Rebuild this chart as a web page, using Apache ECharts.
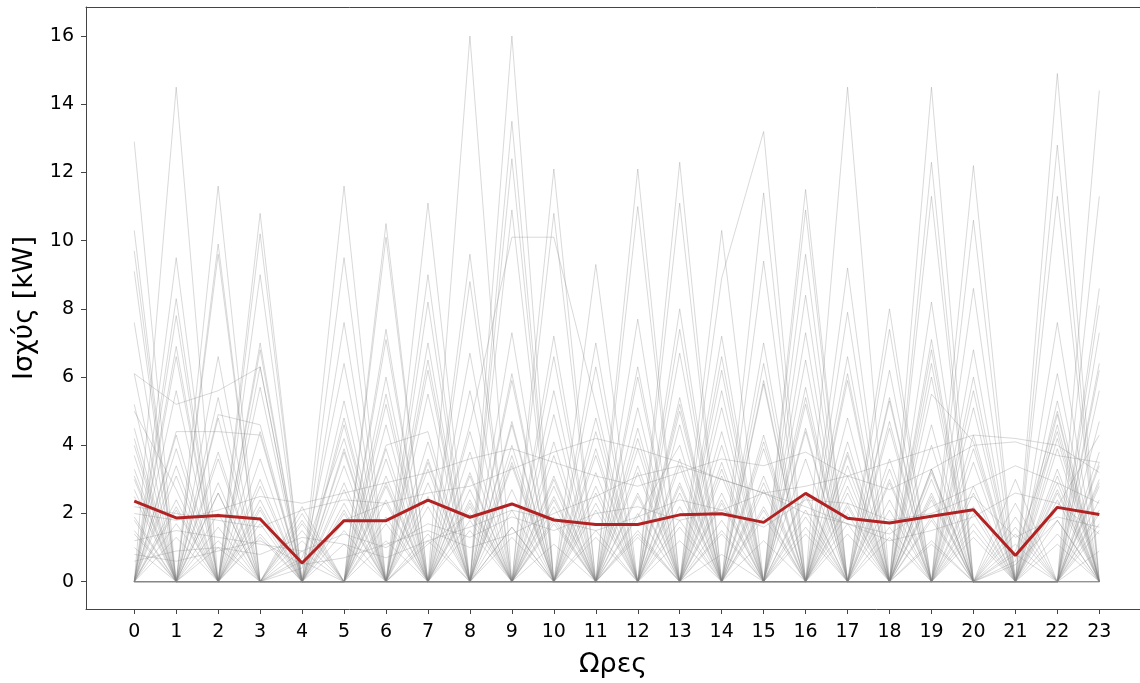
<!DOCTYPE html>
<html>
<head>
<meta charset="utf-8">
<script src="https://cdn.jsdelivr.net/npm/echarts@6/dist/echarts.min.js"></script>
<style>
  html, body { margin: 0; padding: 0; background: #fff; }
  #chart { width: 1140px; height: 683px; }
</style>
</head>
<body>
<div id="chart"></div>
<script>
// hours on the x axis
var hours = [0,1,2,3,4,5,6,7,8,9,10,11,12,13,14,15,16,17,18,19,20,21,22,23];
var yTicks = [0,2,4,6,8,10,12,14,16];

// mean daily profile (red)
var meanProfile = [2.36,1.87,1.94,1.84,0.55,1.79,1.79,2.39,1.89,2.28,1.81,1.68,
                   1.68,1.96,1.99,1.74,2.59,1.86,1.72,1.92,2.11,0.77,2.18,1.97];

// individual daily profiles (grey)
var day01 = [5.2,0,0,2.1,0,1.1,0,0,16.0,0,0,0,3.4,0,0.8,0,0,4.8,0,0,0,0,6.1,0];
var day02 = [0,4.3,0,0,0,3.9,0,1.2,0,16.0,0,0,0,0,6.2,0,0,0,0,2.4,0,0,0,5.6];
var day03 = [0,14.5,0,0,1.2,0,7.4,0,0,0,4.9,0,0,1.8,0,3.1,0,0,0,0,6.8,0,0,0];
var day04 = [1.5,0,3.8,0,0,0,0,5.5,0,0,0,2.6,0,6.7,0,0,0,14.5,0,0,0,0,3.3,0];
var day05 = [6.1,0,0,4.4,0,0,0,0,0,7.3,0,0,0,0,0,0,5.2,0,0,14.5,0,0,0,2.9];
var day06 = [0,0,6.6,0,0,0,3.1,0,0,0,5.6,0,0,0,4.0,0,0,0,3.6,0,0,0,14.9,0];
var day07 = [0,6.9,0,0,0,5.3,0,0,3.2,0,0,0,7.7,0,0,0,4.4,0,0,0,2.0,0,0,14.4];
var day08 = [12.9,0,0,0,0.9,0,0,4.1,0,13.5,0,0,0,3.6,0,0,0,5.9,0,0,0,1.1,0,0];
var day09 = [0,0,0,6.3,0,0,5.2,0,0,0,2.8,0,0,0,8.9,13.2,0,0,0,7.1,0,0,4.2,0];
var day10 = [0,2.2,0,0,0,7.6,0,0,0,12.4,0,0,0,0,0,0,6.5,0,0,3.2,0,0,12.8,0];
var day11 = [3.1,0,0,5.7,0,0,0,6.2,0,0,0,3.9,0,12.3,0,0,2.5,0,0,12.3,0,0.8,0,0];
var day12 = [0,0,4.8,0,0,2.9,0,0,0,0,12.1,0,0,4.6,0,0,0,3.4,0,0,12.2,0,0,6.4];
var day13 = [10.3,0,0,0,2.2,0,0,0,6.7,0,0,0,12.1,0,0,5.8,0,0,4.7,0,0,1.9,0,0];
var day14 = [0,0,11.6,0,0,11.6,0,0,0,4.7,0,0,0,0,7.2,0,0,2.2,0,0,5.1,0,0,3.8];
var day15 = [0,5.6,0,0,0,0,0,3.3,0,0,0,6.3,0,0,0,11.4,0,0,0,4.6,0,0,7.6,0];
var day16 = [0,0,2.6,0,0,0,6.0,0,0,0,3.7,0,0,5.4,0,0,11.5,0,0,11.3,0,0,11.3,0];
var day17 = [2.7,0,0,3.6,0,0,0,11.1,0,5.9,0,0,0,11.1,0,0,0,6.6,0,0,3.9,0,0,2.4];
var day18 = [0,3.4,0,0,0,4.8,0,0,0,10.9,0,0,5.1,0,0,0,10.9,0,0,6.0,0,0,0,11.3];
var day19 = [4.0,0,0,10.8,0,0,2.4,0,0,0,10.8,0,0,0,3.3,0,0,0,5.4,0,0,0.6,5.0,0];
var day20 = [0,0,5.4,0,1.5,0,0,7.0,0,0,0,0,11.0,0,0,6.4,0,2.6,0,0,10.6,0,0,0];
var day21 = [9.7,0,0,10.2,0,0,10.5,0,0,0,0,4.4,0,0,5.6,0,0,0,2.9,0,0,0,0,7.3];
var day22 = [0,7.8,0,0,0,0,10.1,0,0,3.4,0,0,6.0,0,10.3,0,5.7,0,0,0,4.3,0,0,0];
var day23 = [0,0,9.9,0,0,3.4,0,0,4.6,10.1,10.1,5.2,0,5.0,0,0,0,4.1,0,6.8,0,0,3.9,0];
var day24 = [9.1,0,0,3.0,0,0,0,0,9.6,0,0,2.1,0,0,0,9.4,0,0,6.2,0,0,2.3,0,0];
var day25 = [0,9.5,0,0,0,9.5,0,0,0,0,2.2,0,3.9,0,0,0,9.6,0,0,0,5.6,0,0,4.7];
var day26 = [0,0,0,9.0,0,0,0,9.0,0,0,0,9.3,0,0,4.4,0,0,9.2,0,4.0,0,0,2.6,0];
var day27 = [1.8,0,9.6,0,0,0,4.6,0,0,0,6.6,0,0,7.4,0,0,0,0,8.0,0,0,0,0,8.6];
var day28 = [6.1,5.2,5.6,6.3,0,2.1,0,3.5,0,1.6,0,2.8,0,1.2,0,3.9,0,2.3,0,1.1,0,0,2.7,0];
var day29 = [0,4.4,4.4,4.3,0,0,3.6,0,2.4,0,1.8,0,4.5,0,2.6,0,1.4,0,3.0,0,2.2,0,0,1.5];
var day30 = [2.5,0,4.9,4.6,0,3.8,0,2.2,0,6.1,0,1.3,0,2.9,0,4.1,0,1.7,0,3.3,0,0.5,1.8,0];
var day31 = [7.6,0,2.0,0,0.4,6.4,0,1.4,0,2.7,0,3.2,0,8.0,0,2.1,0,7.9,0,1.9,0,0,0,6.2];
var day32 = [0,8.3,0,6.8,0,0,7.1,0,5.6,0,3.1,0,2.5,0,6.6,0,8.4,0,2.1,0,8.6,0,0,3.0];
var day33 = [4.5,0,2.9,0,1.7,0,5.5,0,2.7,0,7.2,0,4.2,0,2.3,0,5.4,0,7.4,0,2.8,0,5.3,0];
var day34 = [1.2,1.5,1.3,1.1,0.9,1.4,1.0,1.7,1.3,1.9,1.5,2.0,2.2,1.8,2.1,1.6,2.4,2.3,1.8,2.0,2.5,1.3,1.9,1.6];
var day35 = [0,2.4,0,1.9,0,2.7,0,8.2,0,4.6,0,7.0,0,3.4,0,5.9,0,3.8,0,8.2,0,1.6,0,2.1];
var day36 = [3.3,0,0,7.0,0,1.8,2.3,0,4.4,0,0,2.3,0,5.2,0,2.9,0,6.1,0,2.6,0,0.9,4.4,0];
var day37 = [0,6.6,0,0,0.7,4.2,0,0,8.8,0,2.4,0,6.3,0,0,7.0,0,0,5.3,0,0,3.0,0,8.1];
var day38 = [5.0,2.7,0,0,0,0,4.0,4.4,0,3.5,0,0,3.2,0,5.1,0,3.6,0,0,5.5,4.1,0,3.1,0];
var day39 = [0,0,3.6,0,2.0,0,0,6.5,0,0,4.1,0,0,2.6,0,0,7.3,0,4.5,0,6.0,0,4.9,0];
var day40 = [2.0,1.8,2.1,2.5,2.3,2.6,2.9,3.2,3.6,3.9,3.5,3.1,2.8,3.2,3.6,3.4,3.8,3.1,2.7,3.3,4.0,4.1,3.7,3.5];
var day41 = [0,3.9,0,2.4,0,0,1.9,0,0,4.0,0,4.8,0,0,1.5,0,2.6,0,0,3.3,0,0,2.2,4.3];
var day42 = [1.0,0,1.6,0,0,2.3,0,1.1,2.0,0,1.7,0,2.6,0,1.4,0,0,2.0,0,1.2,0,0,1.8,0];
var day43 = [4.2,0,0,1.4,0,0,2.8,0,0,3.7,0,0,1.9,4.0,0,0,2.1,0,0,6.4,0,0,0,3.4];
var day44 = [0,1.3,0,0,1.8,0,1.2,0,1.5,0,2.5,0,0,1.6,0,2.7,0,1.4,0,0,1.5,0,2.4,0];
var day45 = [0.8,0.6,0.9,1.2,0.5,0.7,1.1,1.5,1.0,1.4,2.0,2.5,3.1,3.4,3.0,2.6,2.2,1.7,1.2,1.5,1.9,2.6,2.3,1.4];
var day46 = [3.0,0,1.0,0,0,1.5,0,0,2.2,0,0,0,1.3,0,3.1,0,0,0,1.6,0,3.5,0,0,0.9];
var day47 = [0,0,0,2.2,0,0,0,2.9,0,1.6,0,0,0,2.2,0,0,1.9,0,0,2.5,0,0,1.1,0];
var day48 = [2.2,2.0,1.8,1.6,2.1,2.4,2.3,2.6,2.8,3.3,3.8,4.2,3.9,3.5,3.0,2.6,2.8,3.1,3.5,3.9,4.3,4.2,4.0,3.2];
var day49 = [1.9,0,2.6,0,0,0,1.7,0,3.8,0,1.1,0,0,2.8,0,1.9,0,0,2.4,0,1.3,0,2.9,0];
var day50 = [0,3.1,0,1.3,0,2.0,0,0,1.8,0,3.0,0,1.4,0,0,2.2,0,3.1,0,0,2.6,0,0,1.7];
var day51 = [0,0,1.2,0,0.6,0,3.9,0,0,2.1,0,1.5,0,0,3.5,0,1.6,0,1.3,0,0,1.4,0,2.8];
var day52 = [3.7,0,0,0,0,4.6,0,2.5,0,0,1.9,0,0,0,2.4,0,0,3.7,0,0,0,0,4.6,0];
var day53 = [0,1.7,0,2.8,0,0,0,0,3.1,0,0,0,2.0,0,0,1.2,0,0,3.3,0,1.7,0,0,2.0];
var day54 = [0.6,0.9,1.0,0.8,1.3,1.1,0.7,1.2,1.6,2.1,1.8,1.5,1.9,2.4,2.1,2.6,2.0,1.7,1.4,2.2,2.8,3.4,2.9,2.3];
var day55 = [0,2.1,0,0,0,0,2.9,0,2.3,0,0,3.7,0,0,0,4.3,0,2.8,0,3.0,0,0,1.4,0];
var day56 = [1.4,0,0,1.7,0,0,0,3.6,0,1.3,0,0,1.5,0,1.8,0,4.5,0,0,1.8,0,0,0,3.5];

var days = [day01,day02,day03,day04,day05,day06,day07,day08,day09,day10,day11,day12,day13,day14,
            day15,day16,day17,day18,day19,day20,day21,day22,day23,day24,day25,day26,day27,day28,
            day29,day30,day31,day32,day33,day34,day35,day36,day37,day38,day39,day40,day41,day42,
            day43,day44,day45,day46,day47,day48,day49,day50,day51,day52,day53,day54,day55,day56];

function toPoints(values) {
  return hours.map(function (h, i) { return [h, values[i]]; });
}

var FONT = "DejaVu Sans";
var series = days.map(function (d) {
  return {
    type: "line",
    data: toPoints(d),
    symbol: "none",
    silent: true,
    lineStyle: { color: "rgba(128,128,128,0.3)", width: 1 }
  };
});
series.push({
  type: "line",
  data: toPoints(meanProfile),
  symbol: "none",
  z: 5,
  lineStyle: { color: "#b22222", width: 3 }
});

var chart = echarts.init(document.getElementById("chart"));
chart.setOption({
  animation: false,
  backgroundColor: "#fff",
  grid: { left: 86, right: 0, top: 7, bottom: 73 },
  xAxis: [
    {
      type: "value",
      min: -1.15,
      max: 23.97,
      name: "Ωρες",
      nameLocation: "middle",
      nameGap: 42,
      nameTextStyle: { fontFamily: FONT, fontSize: 27, color: "#000" },
      axisLine: { onZero: false, lineStyle: { color: "#444", width: 1 } },
      axisTick: { customValues: hours, length: 5, lineStyle: { color: "#444" } },
      axisLabel: { customValues: hours, fontFamily: FONT, fontSize: 19, color: "#000", margin: 14 },
      splitLine: { show: false }
    },
    {
      type: "value",
      position: "top",
      min: -1.15,
      max: 23.97,
      axisLine: { show: true, onZero: false, lineStyle: { color: "#444", width: 1 } },
      axisTick: { show: false },
      axisLabel: { show: false },
      splitLine: { show: false }
    }
  ],
  yAxis: {
    type: "value",
    min: -0.8,
    max: 16.85,
    name: "Ισχύς [kW]",
    nameLocation: "middle",
    nameGap: 44,
    nameTextStyle: { fontFamily: FONT, fontSize: 27, color: "#000" },
    axisLine: { show: true, onZero: false, lineStyle: { color: "#444", width: 1 } },
    axisTick: { show: true, customValues: yTicks, length: 5, lineStyle: { color: "#444" } },
    axisLabel: { customValues: yTicks, fontFamily: FONT, fontSize: 19, color: "#000", margin: 12 },
    splitLine: { show: false }
  },
  series: series
});
</script>
</body>
</html>
